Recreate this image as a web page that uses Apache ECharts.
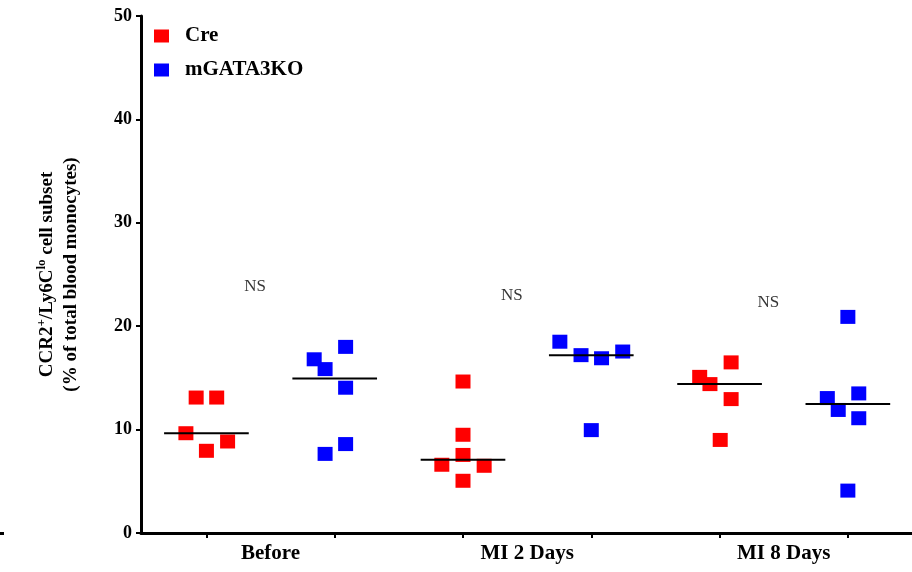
<!DOCTYPE html>
<html>
<head>
<meta charset="utf-8">
<script src="https://cdn.jsdelivr.net/npm/echarts@6/dist/echarts.min.js"></script>
<style>
  html, body { margin: 0; padding: 0; background: #fff; }
  #chart { width: 912px; height: 572px; }
</style>
</head>
<body>
<div id="chart"></div>
<script>
// Time points along the x axis
const timepoints = ['Before', 'MI 2 Days', 'MI 8 Days'];

// Cre mice: % CCR2+/Ly6C-lo monocytes per animal, one list per time point
const creBefore = [13.1, 13.1, 9.65, 7.95, 8.85];
const creMI2 = [14.65, 9.5, 7.55, 6.6, 6.5, 5.05];
const creMI8 = [16.5, 15.1, 14.4, 12.95, 9.0];

// mGATA3KO mice
const koBefore = [16.8, 15.85, 18.0, 14.05, 8.6, 7.65];
const koMI2 = [18.5, 17.2, 16.9, 17.55, 9.95];
const koMI8 = [20.9, 13.5, 13.05, 11.9, 11.1, 4.1];

// Horizontal spread of the animals within each column (category units)
const creBeforeJitter = [-0.08, 0.08, -0.16, 0, 0.165];
const creMI2Jitter = [0, 0, 0, -0.165, 0.165, 0];
const creMI8Jitter = [0.09, -0.155, -0.075, 0.09, 0.005];
const koBeforeJitter = [-0.16, -0.075, 0.085, 0.085, 0.085, -0.075];
const koMI2Jitter = [-0.245, -0.08, 0.08, 0.245, 0];
const koMI8Jitter = [0, 0.085, -0.16, -0.075, 0.085, 0];

// Significance annotations
const nsText = ['NS', 'NS', 'NS'];
const nsLevel = [23.8, 23.0, 22.3];

// y axis ticks
const yTicks = [0, 10, 20, 30, 40, 50];

const FONT = "'Liberation Serif', 'Times New Roman', serif";
const RED = '#ff0000';
const BLUE = '#0000ff';

const creGroups = [creBefore, creMI2, creMI8];
const creJitters = [creBeforeJitter, creMI2Jitter, creMI8Jitter];
const koGroups = [koBefore, koMI2, koMI8];
const koJitters = [koBeforeJitter, koMI2Jitter, koMI8Jitter];

function median(arr) {
  const s = arr.slice().sort((a, b) => a - b);
  const n = s.length;
  return n % 2 ? s[(n - 1) / 2] : (s[n / 2 - 1] + s[n / 2]) / 2;
}

// each time point takes two columns: Cre at 2*i, mGATA3KO at 2*i+1
function points(groups, jitters, shift) {
  const out = [];
  groups.forEach((vals, i) => {
    vals.forEach((v, j) => out.push([2 * i + shift + jitters[i][j], v]));
  });
  return out;
}

const medians = [];
timepoints.forEach((t, i) => {
  medians.push([2 * i, median(creGroups[i])]);
  medians.push([2 * i + 1, median(koGroups[i])]);
});

const nsData = timepoints.map((t, i) => [2 * i + 0.38, nsLevel[i], nsText[i]]);

const chart = echarts.init(document.getElementById('chart'), null, { renderer: 'canvas' });

chart.setOption({
  animation: false,
  backgroundColor: '#ffffff',
  grid: { left: 141, right: 0, top: 16, bottom: 39, containLabel: false },
  legend: {
    data: ['Cre', 'mGATA3KO'],
    orient: 'vertical',
    left: 149,
    top: 19,
    itemWidth: 15,
    itemHeight: 13,
    itemGap: 10,
    icon: 'rect',
    textStyle: {
      fontFamily: FONT, fontWeight: 'bold', fontSize: 21, color: '#000',
      padding: [0, 0, 0, 11], lineHeight: 24
    }
  },
  xAxis: {
    type: 'value',
    min: -0.51,
    max: 5.5,
    splitLine: { show: false },
    axisLine: { onZero: false, lineStyle: { color: '#000', width: 3 } },
    axisTick: {
      show: true, length: 5, lineStyle: { color: '#000', width: 2 },
      customValues: [0, 1, 2, 3, 4, 5]
    },
    axisLabel: {
      customValues: [0.5, 2.5, 4.5],
      formatter: v => timepoints[Math.round((v - 0.5) / 2)] || '',
      fontFamily: FONT, fontWeight: 'bold', fontSize: 21, color: '#000', margin: 10
    }
  },
  yAxis: {
    type: 'value',
    min: 0,
    max: 50,
    interval: 10,
    splitLine: { show: false },
    axisLine: { show: true, onZero: false, lineStyle: { color: '#000', width: 3 } },
    axisTick: { show: true, length: 5, lineStyle: { color: '#000', width: 2 } },
    axisLabel: {
      fontFamily: FONT, fontWeight: 'bold', fontSize: 18, color: '#000', margin: 9,
      formatter: v => (yTicks.indexOf(v) >= 0 ? String(v) : '')
    },
    name: '{t|CCR2}{s|+}{t|/Ly6C}{s|lo}{t| cell subset}\n{t|(% of total blood monocytes)}',
    nameLocation: 'middle',
    nameRotate: 90,
    nameGap: 58,
    nameTextStyle: {
      color: '#000',
      rich: {
        t: { fontFamily: FONT, fontWeight: 'bold', fontSize: 19, lineHeight: 24, color: '#000' },
        s: { fontFamily: FONT, fontWeight: 'bold', fontSize: 13, lineHeight: 24, verticalAlign: 'top', color: '#000' }
      }
    }
  },
  series: [
    {
      name: 'Cre',
      type: 'scatter',
      symbol: 'rect',
      symbolSize: [15, 14],
      itemStyle: { color: RED, opacity: 1 },
      data: points(creGroups, creJitters, 0),
      z: 3
    },
    {
      name: 'mGATA3KO',
      type: 'scatter',
      symbol: 'rect',
      symbolSize: [15, 14],
      itemStyle: { color: BLUE, opacity: 1 },
      data: points(koGroups, koJitters, 1),
      z: 3
    },
    {
      name: 'median',
      type: 'custom',
      z: 5,
      renderItem: function (params, api) {
        const x = api.value(0), m = api.value(1);
        const a = api.coord([x - 0.33, m]);
        const b = api.coord([x + 0.33, m]);
        return {
          type: 'line',
          shape: { x1: a[0], y1: a[1], x2: b[0], y2: b[1] },
          style: { stroke: '#000', lineWidth: 2 }
        };
      },
      data: medians
    },
    {
      name: 'ns',
      type: 'scatter',
      symbolSize: 0,
      silent: true,
      label: {
        show: true,
        position: 'inside',
        formatter: p => p.value[2],
        fontFamily: FONT, fontSize: 17, color: '#000'
      },
      data: nsData
    }
  ],
  graphic: [
    { type: 'rect', left: 0, top: 532, shape: { width: 4, height: 3 }, style: { fill: '#000' } }
  ]
});
</script>
</body>
</html>
